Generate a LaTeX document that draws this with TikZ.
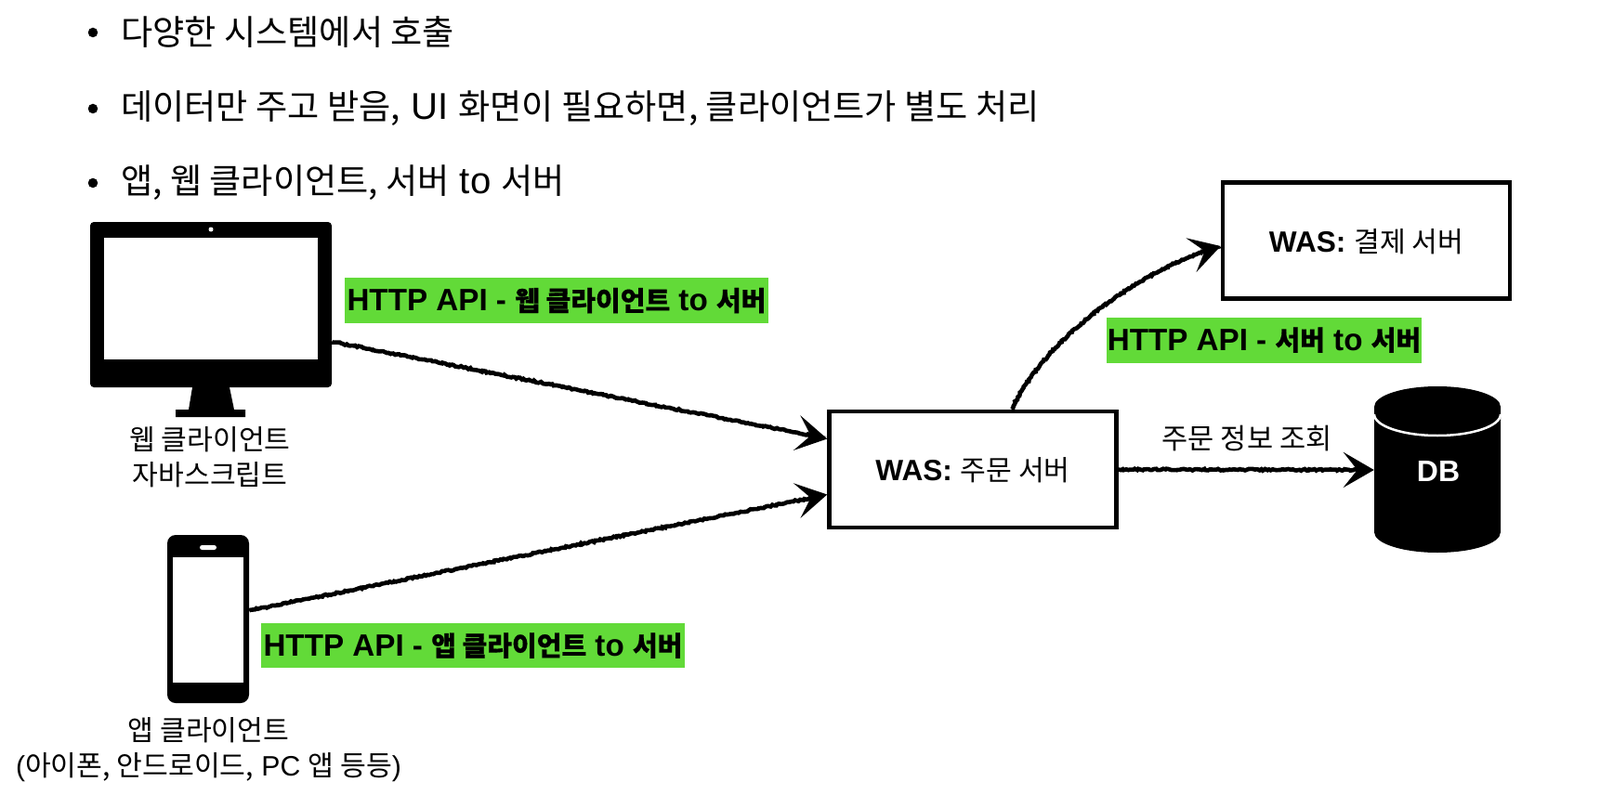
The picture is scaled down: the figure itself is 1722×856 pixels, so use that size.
\documentclass[tikz,border=0pt]{standalone}
\usepackage{fontspec}
\setmainfont{Liberation Sans}
\newfontfamily\kr{Noto Sans CJK KR}
\newfontfamily\krb[Scale=0.925]{Noto Sans CJK KR}
\newfontfamily\krs[Scale=0.955]{Noto Sans CJK KR}
\newfontfamily\krg[Scale=0.875,FakeBold=0.45]{Noto Sans CJK KR}
\usetikzlibrary{arrows.meta,decorations.pathmorphing}
\definecolor{lbl}{RGB}{98,218,56}
\newcommand{\fs}[1]{\fontsize{#1}{#1}\selectfont}
\tikzset{
  x=1pt,y=-1pt,
  txt/.style={inner sep=0pt,font=\fs{30.2},align=center,text=black},
  bullet/.style={inner sep=0pt,anchor=west,font=\fs{40.2}},
  dot/.style={circle,fill=black,inner sep=0pt,minimum size=10.5pt},
  badge/.style={fill=lbl,inner sep=0pt,text height=27pt,text depth=5pt,font=\fs{33.2}\bfseries,anchor=center},
  srv/.style={draw=black,line width=4.5pt,fill=white,inner sep=0pt,font=\fs{31.6}},
  ghost/.style={inner sep=0pt},
  rough/.style={line width=4.6pt,draw=black,decorate,
    decoration={random steps,segment length=2pt,amplitude=.9pt,post length=14pt},
    -{Stealth[length=33pt,width=38pt,inset=15pt]}},
}
\begin{document}
\begin{tikzpicture}
\useasboundingbox (0,0) rectangle (1722,856);
% bullets
\node[dot] (b1) at (100,35) {};
\node[dot] (b2) at (100,117) {};
\node[dot] (b3) at (100,197) {};
\node[bullet] (t1) at (130,35) {\krb 다양한 시스템에서 호출};
\node[bullet] (t2) at (130,117) {{\krb 데이터만 주고 받음,} UI {\krb 화면이 필요하면, 클라이언트가 별도 처리}};
\node[bullet] (t3) at (130,197) {{\krb 앱, 웹 클라이언트, 서버} to {\krb 서버}};
% monitor
\fill[black,rounded corners=4pt] (97,239) rectangle (357,417);
\fill[white] (112,256) rectangle (342,387);
\fill[white] (227,247) circle (2.5);
\fill[black] (207,417) -- (247,417) -- (252,441) -- (264,441) -- (264,449) -- (189,449) -- (189,441) -- (203,441) -- cycle;
\node[ghost,minimum width=260pt,minimum height=178pt] (mon) at (227,328) {};
% phone
\fill[black,rounded corners=9pt] (180,576) rectangle (268,757);
\fill[white] (186,600) rectangle (262,735);
\fill[white,rounded corners=2.5pt] (215,587) rectangle (233,592);
\node[ghost,minimum width=88pt,minimum height=181pt] (ph) at (224,666) {};
% db
\fill[black] (1479,438) -- (1479,573) arc[start angle=180,end angle=0,x radius=68,y radius=22] -- (1615,438) arc[start angle=360,end angle=180,x radius=68,y radius=22] -- cycle;
\draw[white,line width=2.5pt] (1479,446) arc[start angle=180,end angle=0,x radius=68,y radius=23];
\node[ghost,minimum width=136pt,minimum height=179pt] (db) at (1547,506) {};
\node[inner sep=0pt,font=\fs{32}\bfseries,text=white] (dbt) at (1548,507.5) {DB};
% servers
\node[srv,minimum width=309pt,minimum height=125pt] (was) at (1047,505.5) {};
\node[srv,minimum width=309pt,minimum height=125pt] (pay) at (1470.5,259) {};
\node[inner sep=0pt,font=\fs{31.6}] (wast) at (1047,506.5) {\textbf{WAS:} {\krs 주문 서버}};
\node[inner sep=0pt,font=\fs{31.6}] (payt) at (1470.5,260) {\textbf{WAS:} {\krs 결제 서버}};
% badges
\node[badge,minimum width=456pt,minimum height=49pt] (l1) at (599,323.5) {HTTP API - {\krg 웹 클라이언트} to {\krg 서버}};
\node[badge,minimum width=339pt,minimum height=49pt] (l2) at (1360.5,366) {HTTP API - {\krg 서버} to {\krg 서버}};
\node[badge,minimum width=456pt,minimum height=48pt] (l3) at (509,695) {HTTP API - {\krg 앱 클라이언트} to {\krg 서버}};
% captions
\node[txt] (c1) at (226,492) {\kr 웹 클라이언트\\[8pt]\kr 자바스크립트};
\node[txt] (c2) at (224.5,807) {{\kr 앱 클라이언트}\\[8pt]({\kr 아이폰, 안드로이드,} PC {\kr 앱 등등})};
\node[txt,font=\fs{30.6}] (c3) at (1342,472) {\kr 주문 정보 조회};
% connectors
\draw[rough] (mon.-17) -- ([yshift=33pt]was.west);
\draw[rough] (ph.11.5) -- ([yshift=-27pt]was.west);
\draw[rough] (was.east) -- (db.west);
\draw[rough] ([xshift=42pt]was.north) .. controls +(35,-78) and +(-80,22) .. ([yshift=-6pt]pay.west);
\end{tikzpicture}
\end{document}
